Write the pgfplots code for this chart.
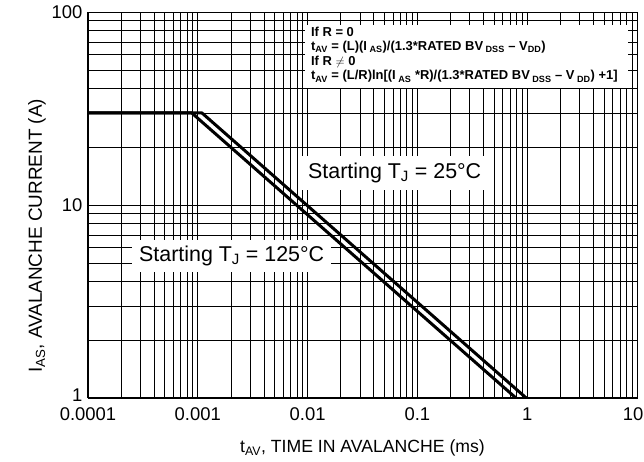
\documentclass[border=0pt]{standalone}
\usepackage{pgfplots}
\pgfplotsset{compat=1.18}
\usepackage{fontspec}
\setmainfont{Liberation Sans}
\begin{document}
\begin{tikzpicture}[x=1bp,y=1bp]
\useasboundingbox (-88,-64) rectangle (556,398);
\begin{axis}[
  at={(0,0)}, anchor=south west,
  scale only axis, width=549bp, height=386bp,
  xmode=log, ymode=log,
  xmin=0.0001, xmax=10, ymin=1, ymax=100,
  xtick={0.0001,0.001,0.01,0.1,1,10},
  xticklabels={0.0001,0.001,0.01,0.1,1,\hspace*{-8bp}10},
  ytick={1,10,100},
  yticklabels={\raisebox{5bp}{1},10,100},
  grid=both,
  major grid style={black, line width=0.7bp},
  minor grid style={black, line width=0.7bp},
  minor x tick num=8, minor y tick num=8,
  tick style={draw=none},
  axis line style={black, line width=0.8bp},
  tick label style={font=\fontsize{18.5}{20}\selectfont},
  xticklabel style={yshift=-6bp},
  yticklabel style={xshift=-2bp},
  /pgf/number format/assume math mode=true,
  xlabel={t\textsubscript{AV}, TIME IN AVALANCHE (ms)},
  ylabel={I\textsubscript{AS}, AVALANCHE CURRENT (A)},
  xlabel style={font=\fontsize{17.7}{19}\selectfont, at={(axis description cs:0.5,-0.1295)}, anchor=center},
  ylabel style={font=\fontsize{19}{20}\selectfont, at={(axis description cs:-0.093,0.42)}, anchor=center},
  clip=true,
]
% white label boxes over grid
\fill[white] (rel axis cs:0.395,0.803) rectangle (rel axis cs:0.984,0.966);
\node[anchor=west, fill=white, inner xsep=8bp, inner ysep=7bp, font=\fontsize{21.5}{23}\selectfont]
  at (rel axis cs:0.386,0.583) {Starting T\textsubscript{J} = 25°C};
\node[anchor=west, fill=white, inner xsep=7bp, inner ysep=6bp, font=\fontsize{21.5}{23}\selectfont]
  at (rel axis cs:0.080,0.368) {Starting T\textsubscript{J} = 125°C};
\node[anchor=north west, align=left, inner sep=0pt, font=\bfseries\fontsize{13}{14.7}\selectfont]
  at (rel axis cs:0.406,0.9625) {If R = 0\\
  t\textsubscript{AV} = (L)(I\textsubscript{ AS})/(1.3*RATED BV\textsubscript{ DSS} -- V\textsubscript{DD})\\
  If R \ensuremath{\neq} 0\\
  t\textsubscript{AV} = (L/R)ln[(I\textsubscript{ AS} *R)/(1.3*RATED BV\textsubscript{ DSS}  -- V\textsubscript{ DD}) +1]};
\addplot[black, line width=3bp, line join=round] coordinates {(0.0001,30) (0.00088,30) (0.79,1)};
\addplot[black, line width=3bp, line join=round] coordinates {(0.0001,30) (0.00109,30) (0.98,1)};
\end{axis}
\draw[line width=2bp] (0,0) -- (0,386);
\draw[line width=1.6bp] (0,0) -- (549,0);
\end{tikzpicture}
\end{document}
